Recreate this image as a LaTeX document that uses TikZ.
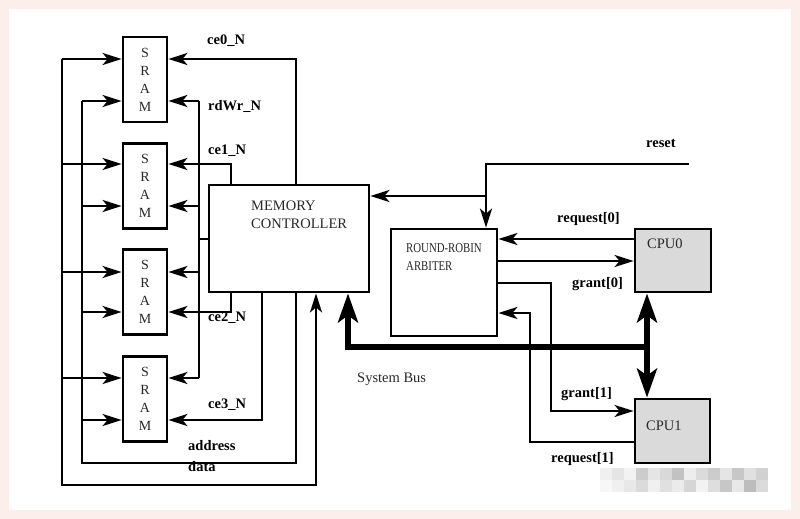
\documentclass[tikz,border=0pt]{standalone}
\usepackage{fontspec}
\setmainfont{Liberation Serif}
\newfontfamily\condfont{Liberation Serif}[FakeStretch=0.8]
\usetikzlibrary{arrows.meta,calc}
\definecolor{framepink}{RGB}{252,238,234}
\definecolor{boxtext}{RGB}{40,40,40}
\definecolor{cpugray}{RGB}{218,218,218}
\begin{document}
\begin{tikzpicture}[x=1pt,y=-1pt,
  wire/.style={line width=2.5pt,line join=miter},
  arr/.style={wire,-{Stealth[length=19pt,width=12pt,inset=5pt]}},
  bus/.style={line width=6pt,line join=miter},
  bigtip/.tip={Stealth[length=29pt,width=20pt,inset=7pt]},
  sram/.style={draw,line width=2.8pt,inner sep=0pt,minimum width=44pt,minimum height=85pt,align=center,text=boxtext,font=\fontsize{14}{18}\selectfont},
  bigbox/.style={draw,line width=2.8pt},
  lbl/.style={anchor=base west,inner sep=0pt,font=\fontsize{14.5}{17}\selectfont\bfseries},
  btext/.style={anchor=base west,inner sep=0pt,text=boxtext,align=left,font=\fontsize{14.5}{18}\selectfont},
]
\useasboundingbox (0,0) rectangle (800,519);
\fill[framepink] (0,0) rectangle (800,519);
\fill[white] (9,9) rectangle (791,510);

% watermark mosaic
\foreach \x/\y/\g in {600/468/94,612/468/90,624/468/95,636/468/80,648/468/90,660/468/85,672/468/76,684/468/93,696/468/86,708/468/80,720/468/90,732/468/78,744/468/88,756/468/82,
 600/480/97,612/480/94,624/480/91,636/480/86,648/480/94,660/480/88,672/480/92,684/480/84,696/480/95,708/480/87,720/480/78,732/480/91,744/480/74,756/480/86}
  \fill[black!\fpeval{100-\g}] (\x,\y) rectangle ++(12,12);

% SRAM boxes
\node[sram] (s0) at (145,79.5) {S\\R\\A\\M};
\node[sram] (s1) at (145,186) {S\\R\\A\\M};
\node[sram] (s2) at (145,292) {S\\R\\A\\M};
\node[sram] (s3) at (145,399) {S\\R\\A\\M};

% main boxes
\node[bigbox,minimum width=160pt,minimum height=107pt] (mc) at (289,238.5) {};
\node[bigbox,minimum width=106pt,minimum height=107pt] (arb) at (444,282.5) {};
\node[bigbox,fill=cpugray,minimum width=76pt,minimum height=63pt] (cpu0) at (673,260.5) {};
\node[bigbox,fill=cpugray,minimum width=75pt,minimum height=64pt] (cpu1) at (672.5,431) {};

\node[btext] (mctext) at (251,228) {MEMORY\\CONTROLLER};
\node[btext,font=\fontsize{13.5}{18}\condfont] (arbtext) at (406,270) {ROUND-ROBIN\\ARBITER};
\node[btext] (cpu0text) at (647,248) {CPU0};
\node[btext] (cpu1text) at (646,430) {CPU1};

% data bus (outer left)
\coordinate (dA) at (62,59);
\coordinate (dB) at (62,485);
\coordinate (dC) at (316,485);
\coordinate (d1) at (62,164);
\coordinate (d2) at (62,272);
\coordinate (d3) at (62,378);
\draw[arr] (dA) -- (dB) -- (dC) -- (dC |- mc.south);
\draw[arr] (dA) -- (dA -| s0.west);
\draw[arr] (d1) -- (d1 -| s1.west);
\draw[arr] (d2) -- (d2 -| s2.west);
\draw[arr] (d3) -- (d3 -| s3.west);

% address bus (inner left)
\coordinate (aA) at (82,101);
\coordinate (aB) at (82,463);
\coordinate (aC) at (296,463);
\coordinate (a1) at (82,206);
\coordinate (a2) at (82,312);
\coordinate (a3) at (82,420);
\draw[wire] (aC |- mc.south) -- (aC) -- (aB) -- (aA);
\draw[arr] (aA) -- (aA -| s0.west);
\draw[arr] (a1) -- (a1 -| s1.west);
\draw[arr] (a2) -- (a2 -| s2.west);
\draw[arr] (a3) -- (a3 -| s3.west);

% chip enables
\coordinate (c0) at (296,59);
\coordinate (c1) at (231,164);
\coordinate (c2) at (231,312);
\coordinate (c3) at (262,420);
\draw[arr] (c0 |- mc.north) -- (c0) -- (c0 -| s0.east);
\draw[arr] (c1 |- mc.north) -- (c1) -- (c1 -| s1.east);
\draw[arr] (c2 |- mc.south) -- (c2) -- (c2 -| s2.east);
\draw[arr] (c3 |- mc.south) -- (c3) -- (c3 -| s3.east);

% read/write
\coordinate (rwT) at (199,101);
\coordinate (rw1) at (199,206);
\coordinate (rwM) at (199,239);
\coordinate (rw2) at (199,272);
\coordinate (rwB) at (199,378);
\draw[wire] (rwT) -- (rwB);
\draw[wire] (rwM) -- (rwM -| mc.west);
\draw[arr] (rwT) -- (rwT -| s0.east);
\draw[arr] (rw1) -- (rw1 -| s1.east);
\draw[arr] (rw2) -- (rw2 -| s2.east);
\draw[arr] (rwB) -- (rwB -| s3.east);

% reset
\coordinate (rs) at (689,164);
\coordinate (rk) at (486,164);
\coordinate (rj) at (486,196);
\draw[arr] (rs) -- (rk) -- (rk |- arb.north);
\draw[arr] (rj) -- (rj -| mc.east);

% request / grant
\coordinate (q0) at (566,239);
\coordinate (g0) at (566,261);
\draw[arr] (q0 -| cpu0.west) -- (q0 -| arb.east);
\draw[arr] (g0 -| arb.east) -- (g0 -| cpu0.west);
\coordinate (g1a) at (551,283);
\coordinate (g1b) at (551,411);
\draw[arr] (g1a -| arb.east) -- (g1a) -- (g1b) -- (g1b -| cpu1.west);
\coordinate (r1a) at (530,442);
\coordinate (r1b) at (530,313);
\draw[arr] (r1a -| cpu1.west) -- (r1a) -- (r1b) -- (r1b -| arb.east);

% system bus
\coordinate (b1) at (348,347);
\coordinate (b2) at (647,347);
\draw[bus,-bigtip] (b2) -- (b1) -- (b1 |- mc.south);
\draw[bus,bigtip-bigtip] (b2 |- cpu0.south) -- (b2 |- cpu1.north);

% labels
\node[lbl] (lce0) at (207,45) {ce0\_N};
\node[lbl] (lrw) at (208,110) {rdWr\_N};
\node[lbl] (lce1) at (208,154) {ce1\_N};
\node[lbl] (lce2) at (208,321) {ce2\_N};
\node[lbl] (lce3) at (208,408) {ce3\_N};
\node[lbl] (laddr) at (188,450) {address};
\node[lbl] (ldata) at (188,471) {data};
\node[lbl] (lreset) at (646,147) {reset};
\node[lbl] (lreq0) at (557,222) {request[0]};
\node[lbl] (lgnt0) at (572,287) {grant[0]};
\node[lbl] (lgnt1) at (561,397) {grant[1]};
\node[lbl] (lreq1) at (551,462) {request[1]};
\node[btext] (lbus) at (357,382) {System Bus};
\end{tikzpicture}
\end{document}
